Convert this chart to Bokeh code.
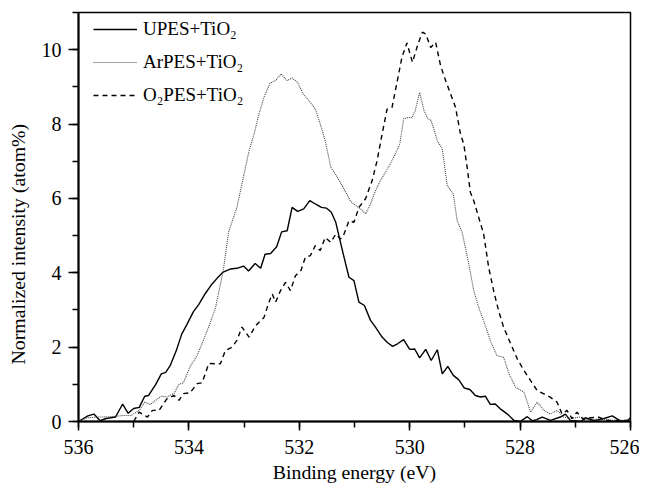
from bokeh.plotting import figure
from bokeh.models import Range1d, Legend, LegendItem, SingleIntervalTicker
from bokeh.embed import file_html
from bokeh.resources import INLINE

# ---- data (binding energy in eV, normalized intensity in atom%) ----
upes_e = [536.0, 535.83, 535.72, 535.61, 535.5, 535.33, 535.2, 535.1, 535.0, 534.9,
          534.8, 534.73, 534.6, 534.5, 534.42, 534.34, 534.23, 534.13, 534.04, 533.92,
          533.82, 533.7, 533.58, 533.49, 533.38, 533.25, 533.13, 533.01, 532.92, 532.8,
          532.7, 532.62, 532.52, 532.41, 532.32, 532.22, 532.13, 532.03, 531.92, 531.81,
          531.71, 531.6, 531.51, 531.42, 531.34, 531.28, 531.19, 531.1, 531.01, 530.92,
          530.82, 530.71, 530.62, 530.5, 530.41, 530.31, 530.22, 530.11, 530.0, 529.91,
          529.82, 529.71, 529.61, 529.5, 529.41, 529.31, 529.21, 529.11, 529.01, 528.91,
          528.81, 528.72, 528.63, 528.54, 528.45, 528.36, 528.23, 528.11, 528.0, 527.87,
          527.78, 527.7, 527.6, 527.45, 527.27, 527.18, 527.09, 526.9, 526.82, 526.65,
          526.48, 526.33, 526.2, 526.07, 526.0]
upes_i = [0.0, 0.15, 0.2, 0.02, 0.08, 0.12, 0.47, 0.22, 0.35, 0.38,
          0.68, 0.7, 1.0, 1.28, 1.32, 1.5, 1.9, 2.35, 2.6, 2.95,
          3.15, 3.45, 3.7, 3.85, 4.02, 4.1, 4.12, 4.18, 4.05, 4.25,
          4.12, 4.5, 4.52, 4.7, 5.1, 5.13, 5.76, 5.65, 5.72, 5.94,
          5.85, 5.76, 5.74, 5.63, 5.36, 4.98, 4.42, 3.88, 3.79, 3.21,
          3.12, 2.72, 2.54, 2.27, 2.13, 2.02, 2.09, 2.2, 1.94, 1.95,
          1.71, 1.94, 1.64, 1.93, 1.28, 1.48, 1.24, 1.12, 0.9, 0.86,
          0.7, 0.66, 0.68, 0.46, 0.47, 0.34, 0.2, 0.03, 0.0, 0.13,
          0.02, 0.05, 0.12, 0.03, 0.12, 0.2, 0.03, 0.0, 0.1, 0.02,
          0.08, 0.15, 0.03, 0.0, 0.1]

arpes_e = [536.0, 535.85, 535.61, 535.4, 535.2, 535.05, 534.9, 534.8, 534.7, 534.5,
           534.4, 534.27, 534.18, 534.1, 533.98, 533.85, 533.76, 533.64, 533.52, 533.38,
           533.28, 533.13, 533.0, 532.91, 532.82, 532.73, 532.64, 532.53, 532.43, 532.33,
           532.22, 532.13, 532.03, 531.93, 531.83, 531.71, 531.62, 531.53, 531.43, 531.31,
           531.19, 531.07, 530.98, 530.89, 530.8, 530.71, 530.62, 530.53, 530.44, 530.35,
           530.26, 530.18, 530.11, 530.02, 529.96, 529.9, 529.82, 529.74, 529.68, 529.61,
           529.5, 529.41, 529.32, 529.21, 529.14, 529.05, 528.93, 528.84, 528.73, 528.63,
           528.54, 528.42, 528.3, 528.2, 528.08, 527.93, 527.81, 527.69, 527.57, 527.45,
           527.33, 527.21, 527.09, 526.91, 526.73, 526.54, 526.36, 526.12, 526.0]
arpes_i = [0.0, 0.1, 0.12, 0.13, 0.16, 0.16, 0.3, 0.52, 0.46, 0.68,
           0.66, 0.75, 1.0, 1.04, 1.47, 1.78, 2.1, 2.55, 3.05, 4.04,
           5.1, 5.76, 6.66, 7.28, 7.73, 8.27, 8.72, 9.1, 9.17, 9.35,
           9.17, 9.24, 9.12, 8.81, 8.64, 8.4, 8.0, 7.55, 6.84, 6.57,
           6.25, 5.92, 5.81, 5.72, 5.58, 5.85, 6.21, 6.48, 6.7, 6.93,
           7.2, 7.46, 8.14, 8.18, 8.17, 8.36, 8.85, 8.36, 8.16, 8.09,
           7.55, 7.33, 6.34, 6.12, 5.4, 5.09, 4.24, 3.52, 2.98, 2.58,
           2.18, 1.77, 1.73, 1.28, 0.92, 0.79, 0.25, 0.52, 0.3, 0.2,
           0.3, 0.12, 0.08, 0.12, 0.03, 0.08, 0.03, 0.03, 0.03]

o2pes_e = [535.0, 534.9, 534.75, 534.66, 534.54, 534.4, 534.27, 534.18, 534.1, 533.98,
           533.85, 533.76, 533.64, 533.43, 533.34, 533.22, 533.13, 533.04, 532.91, 532.79,
           532.64, 532.55, 532.49, 532.43, 532.34, 532.25, 532.16, 532.07, 531.97, 531.89,
           531.8, 531.71, 531.62, 531.53, 531.43, 531.34, 531.25, 531.19, 531.1, 531.01,
           530.92, 530.8, 530.68, 530.59, 530.5, 530.41, 530.32, 530.23, 530.14, 530.05,
           529.95, 529.85, 529.77, 529.71, 529.62, 529.53, 529.44, 529.35, 529.26, 529.17,
           529.08, 529.02, 528.96, 528.9, 528.84, 528.75, 528.66, 528.57, 528.48, 528.39,
           528.3, 528.17, 528.05, 527.93, 527.81, 527.69, 527.57, 527.45, 527.33, 527.24,
           527.15, 527.06, 526.97, 526.85, 526.73, 526.58, 526.42, 526.2, 526.0]
o2pes_i = [0.0, 0.25, 0.12, 0.3, 0.3, 0.61, 0.7, 0.57, 0.75, 0.77,
           1.02, 1.04, 1.56, 1.55, 1.91, 2.0, 2.18, 2.54, 2.27, 2.58,
           2.8, 3.21, 3.43, 3.21, 3.52, 3.74, 3.52, 3.92, 4.06, 4.42,
           4.46, 4.73, 4.6, 4.95, 4.82, 5.04, 4.91, 5.04, 5.4, 5.36,
           5.76, 5.99, 6.48, 7.02, 7.73, 8.4, 8.45, 9.12, 9.8, 10.18,
           9.66, 10.15, 10.47, 10.42, 10.06, 10.2, 9.57, 9.17, 8.81, 8.45,
           7.73, 7.46, 6.84, 6.16, 5.94, 5.49, 5.04, 4.15, 3.52, 2.98,
           2.54, 2.09, 1.68, 1.37, 1.1, 0.83, 0.74, 0.65, 0.52, 0.2,
           0.3, 0.08, 0.25, 0.05, 0.1, 0.12, 0.03, 0.03, 0.03]

labels = ["UPES+TiO\u2082", "ArPES+TiO\u2082", "O\u2082PES+TiO\u2082"]
x_title = "Binding energy (eV)"
y_title = "Normalized intensity (atom%)"

FONT = "Liberation Serif"

p = figure(width=639, height=490, output_backend="svg", toolbar_location=None,
           x_range=Range1d(536, 526), y_range=Range1d(0, 11),
           min_border_left=78, min_border_right=9, min_border_top=12,
           min_border_bottom=69)
p.grid.visible = False
p.background_fill_color = "white"
p.border_fill_color = "white"
p.outline_line_color = "black"
p.outline_line_width = 1.5

r1 = p.line(upes_e, upes_i, line_color="black", line_width=1.4)
r2 = p.line(arpes_e, arpes_i, line_color="#444444", line_width=1.1, line_dash="1 1")
r3 = p.line(o2pes_e, o2pes_i, line_color="black", line_width=1.4, line_dash="5 4")

p.xaxis.ticker = SingleIntervalTicker(interval=2, num_minor_ticks=2)
p.yaxis.ticker = SingleIntervalTicker(interval=2, num_minor_ticks=2)
for ax in (p.xaxis, p.yaxis):
    ax.axis_line_width = 2
    ax.axis_line_color = "black"
    ax.major_tick_line_width = 1.5
    ax.minor_tick_line_width = 1.5
    ax.major_tick_in = 0
    ax.minor_tick_in = 0
    ax.minor_tick_out = 6
    ax.major_label_text_font = FONT
    ax.major_label_text_font_size = "20px"
    ax.major_label_text_color = "black"
    ax.axis_label_text_font = FONT
    ax.axis_label_text_font_size = "19.8px"
    ax.axis_label_text_font_style = "normal"
    ax.axis_label_text_color = "black"
p.xaxis.major_tick_out = 9
p.yaxis.major_tick_out = 10
p.xaxis.major_label_standoff = 9
p.yaxis.major_label_standoff = 7
p.xaxis.axis_label = x_title
# trailing no-break spaces nudge the rotated title toward the bottom, as in the reference
p.yaxis.axis_label = y_title + "\u00a0" * 11
p.xaxis.axis_label_standoff = 4
p.yaxis.axis_label_standoff = 10

legend = Legend(items=[LegendItem(label=labels[0], renderers=[r1]),
                       LegendItem(label=labels[1], renderers=[r2]),
                       LegendItem(label=labels[2], renderers=[r3])],
                location=(15, 315))
legend.background_fill_alpha = 0
legend.border_line_alpha = 0
legend.padding = 0
legend.margin = 0
legend.spacing = 11
legend.glyph_width = 44
legend.glyph_height = 22
legend.label_height = 22
legend.label_standoff = 6
legend.label_text_font = FONT
legend.label_text_font_size = "19px"
legend.label_text_color = "black"
p.add_layout(legend)

open("out.html", "w").write(file_html(p, INLINE))
